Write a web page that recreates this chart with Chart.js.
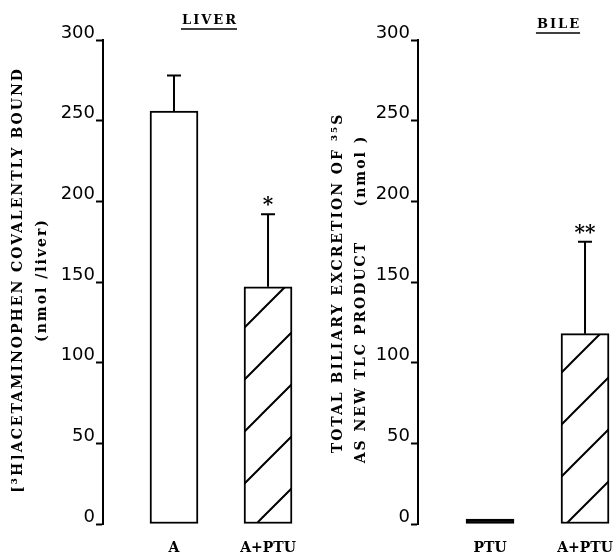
<!DOCTYPE html>
<html>
<head>
<meta charset="utf-8">
<script src="https://cdn.jsdelivr.net/npm/chart.js@4.4.1/dist/chart.umd.min.js"></script>
<style>
  body { margin: 0; background: #fff; }
  .panel { position: absolute; top: 0; height: 552px; }
  #liverBox { left: 0; width: 310px; }
  #bileBox { left: 310px; width: 304px; }
</style>
</head>
<body>
<div class="panel" id="liverBox"><canvas id="liverChart"></canvas></div>
<div class="panel" id="bileBox"><canvas id="bileChart"></canvas></div>
<script>
// Liver panel: covalently bound acetaminophen
const liverLabels = ['A', 'A+PTU'];
const liverValues = [256, 147];
const liverErrors = [22, 45];
const liverMarks = ['', '*'];

// Bile panel: biliary excretion of 35S as new TLC product
const bileLabels = ['PTU', 'A+PTU'];
const bileValues = [3, 118];
const bileErrors = [0, 57];
const bileMarks = ['', '**'];

// y axis ticks, 0..300 every 50
const yMin = 0;
const yMax = 300;
const yStep = 50;

const serif = 'DejaVu Serif';
const sans = 'DejaVu Sans';

function hatch() {
    const s = 52;
    const c = document.createElement('canvas');
    c.width = s; c.height = s;
    const g = c.getContext('2d');
    g.fillStyle = '#fff';
    g.fillRect(0, 0, s, s);
    g.strokeStyle = '#000';
    g.lineWidth = 2;
    g.beginPath();
    g.moveTo(-4, s + 4); g.lineTo(s + 4, -4);
    g.moveTo(-4, 4); g.lineTo(4, -4);
    g.moveTo(s - 4, s + 4); g.lineTo(s + 4, s - 4);
    g.stroke();
    return g.createPattern(c, 'repeat');
}

// error bars, significance marks, panel heading, rotated axis titles
const decor = {
    id: 'decor',
    afterDatasetsDraw(chart, args, o) {
        const { ctx } = chart;
        const y = chart.scales.y;
        const meta = chart.getDatasetMeta(0);
        ctx.save();
        ctx.strokeStyle = '#000';
        ctx.fillStyle = '#000';
        ctx.lineWidth = 2;
        o.values.forEach((v, i) => {
            const bar = meta.data[i];
            if (!o.errors[i]) return;
            const top = y.getPixelForValue(v + o.errors[i]);
            ctx.beginPath();
            ctx.moveTo(bar.x, bar.y);
            ctx.lineTo(bar.x, top);
            ctx.moveTo(bar.x - 7, top);
            ctx.lineTo(bar.x + 7, top);
            ctx.stroke();
            if (o.marks[i]) {
                ctx.font = 'bold 20px ' + serif;
                ctx.textAlign = 'center';
                ctx.textBaseline = 'middle';
                ctx.fillText(o.marks[i], bar.x, top - 8);
            }
        });

        // heading with underline
        ctx.letterSpacing = '2px';
        ctx.font = 'bold 13px ' + serif;
        ctx.textAlign = 'center';
        ctx.textBaseline = 'alphabetic';
        ctx.fillText(o.heading, o.headX + 1, o.headY);
        const w = ctx.measureText(o.heading).width;
        ctx.lineWidth = 1.5;
        ctx.beginPath();
        ctx.moveTo(o.headX - w / 2, o.headY + 5);
        ctx.lineTo(o.headX + w / 2, o.headY + 5);
        ctx.stroke();

        // rotated axis titles
        ctx.letterSpacing = '2px';
        ctx.font = 'bold 14px ' + serif;
        ctx.textBaseline = 'middle';
        o.titles.forEach(t => {
            ctx.save();
            ctx.translate(t.x, t.y);
            ctx.rotate(-Math.PI / 2);
            ctx.fillText(t.text, 0, 0);
            ctx.restore();
        });
        ctx.restore();
    }
};

function makeChart(id, labels, values, colors, range, yWidth, padRight, deco) {
    const ctx = document.getElementById(id).getContext('2d');
    return new Chart(ctx, {
        type: 'bar',
        data: {
            datasets: [{
                data: values.map((v, i) => ({ x: i + 1, y: v })),
                backgroundColor: colors,
                borderColor: '#000',
                borderWidth: 2,
                borderSkipped: false,
                barThickness: 48
            }]
        },
        options: {
            responsive: true,
            maintainAspectRatio: false,
            animation: false,
            layout: { padding: { top: 40, left: 0, right: padRight, bottom: 0 } },
            plugins: {
                legend: { display: false },
                tooltip: { enabled: false },
                decor: deco
            },
            scales: {
                x: {
                    type: 'linear',
                    offset: false,
                    min: range[0],
                    max: range[1],
                    grid: { display: false, drawTicks: false },
                    border: { display: false },
                    afterBuildTicks: s => { s.ticks = labels.map((_, i) => ({ value: i + 1 })); },
                    afterFit: s => { s.height = 28; s.paddingLeft = 0; s.paddingRight = 0; },
                    ticks: {
                        callback: v => labels[v - 1],
                        autoSkip: false,
                        maxRotation: 0,
                        padding: 16,
                        color: '#000',
                        font: { family: serif, size: 14, weight: 'bold' }
                    }
                },
                y: {
                    min: yMin,
                    max: yMax,
                    afterFit: s => { s.width = yWidth; },
                    border: { color: '#000', width: 2 },
                    grid: { drawOnChartArea: false, tickLength: 7, tickWidth: 2, tickColor: '#000' },
                    ticks: {
                        stepSize: yStep,
                        padding: 1,
                        labelOffset: -7,
                        color: '#000',
                        font: { family: sans, size: 18 }
                    }
                }
            }
        },
        plugins: [decor]
    });
}

const hatched = hatch();

makeChart('liverChart', liverLabels, liverValues, ['#fff', hatched], [0.245, 2.34], 103, 10, {
    values: liverValues, errors: liverErrors, marks: liverMarks,
    heading: 'LIVER', headX: 209, headY: 24,
    titles: [
        { text: '[³H]ACETAMINOPHEN COVALENTLY BOUND', x: 18, y: 280 },
        { text: '(nmol /liver)', x: 42, y: 280 }
    ]
});

makeChart('bileChart', bileLabels, bileValues, ['#000', hatched], [0.242, 2.284], 108, 2, {
    values: bileValues, errors: bileErrors, marks: bileMarks,
    heading: 'BILE', headX: 248, headY: 28,
    titles: [
        { text: 'TOTAL BILIARY EXCRETION OF ³⁵S', x: 28, y: 283 },
        { text: 'AS NEW TLC PRODUCT     (nmol )', x: 51, y: 299 }
    ]
});
</script>
</body>
</html>
